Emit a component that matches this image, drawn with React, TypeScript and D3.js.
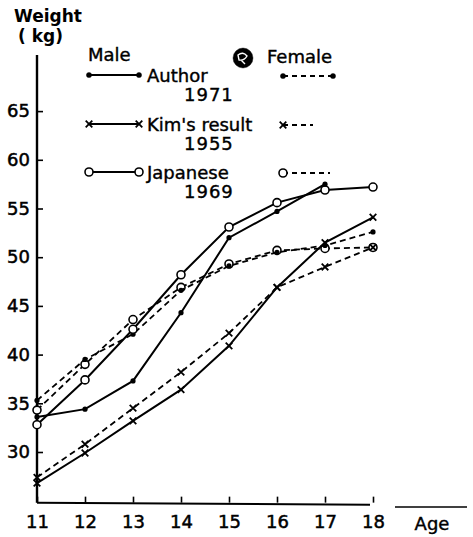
import { useRef, useEffect } from 'react';
import * as d3 from 'd3';

// ages on the x axis
const ages = [11, 12, 13, 14, 15, 16, 17, 18];
const yTicks = [30, 35, 40, 45, 50, 55, 60, 65];

// weights (kg); null = no point
const authorMale = [33.6, 34.4, 37.3, 44.3, 52.0, 54.7, 57.5, null];
const authorFemale = [35.3, 39.5, 42.1, 46.6, 49.1, 50.5, 51.2, 52.6];
const kimMale = [26.8, 29.9, 33.2, 36.4, 40.9, 46.9, 51.5, 54.1];
const kimFemale = [27.4, 30.8, 34.5, 38.2, 42.2, 46.9, 49.0, 51.0];
const japaneseMale = [32.8, 37.4, 42.6, 48.2, 53.1, 55.6, 56.9, 57.2];
const japaneseFemale = [34.3, 39.0, 43.6, 46.9, 49.3, 50.7, 50.9, 51.0];

const FONT = "'DejaVu Sans', sans-serif";

export default function App() {
  const ref = useRef(null);

  useEffect(() => {
    const svg = d3.select(ref.current);
    svg.selectAll('*').remove();

    const x = d3.scaleLinear().domain([11, 18]).range([37, 373]);
    const y = d3.scaleLinear().domain([25, 70]).range([500.7, 62.4]);

    const series = [
      { values: japaneseFemale, dashed: true, marker: 'open' },
      { values: authorFemale, dashed: true, marker: 'dot' },
      { values: kimFemale, dashed: true, marker: 'x' },
      { values: japaneseMale, dashed: false, marker: 'open' },
      { values: authorMale, dashed: false, marker: 'dot' },
      { values: kimMale, dashed: false, marker: 'x' },
    ];

    // axes
    const yAxis = d3.axisLeft(y).tickValues(yTicks).tickSize(-6).tickPadding(7);
    const gy = svg.append('g').attr('transform', `translate(${x(11)},0)`).call(yAxis);
    gy.select('.domain').remove();
    gy.append('line')
      .attr('x1', 0).attr('x2', 0)
      .attr('y1', 55).attr('y2', y(24.8))
      .attr('stroke', 'black').attr('stroke-width', 2.4);

    const xAxis = d3.axisBottom(x).tickValues(ages).tickFormat(d3.format('d')).tickSize(-6).tickPadding(10);
    const gx = svg.append('g').attr('transform', `translate(0,${y(24.8)})`).call(xAxis);
    gx.select('.domain').remove();
    gx.append('line')
      .attr('x1', x(11)).attr('x2', x(18) - 3)
      .attr('y1', 0).attr('y2', 2)
      .attr('stroke', 'black').attr('stroke-width', 2);

    [gx, gy].forEach((g) => {
      g.selectAll('.tick line').attr('stroke', 'black').attr('stroke-width', 1.6);
      g.selectAll('.tick text')
        .attr('fill', 'black')
        .attr('stroke', 'black').attr('stroke-width', 0.5)
        .attr('font-family', FONT)
        .attr('font-size', 18);
    });
    gx.selectAll('.tick text').attr('dy', '0.85em');

    // Age label with its own rule
    svg.append('line')
      .attr('x1', 395).attr('x2', 467)
      .attr('y1', 507).attr('y2', 507)
      .attr('stroke', 'black').attr('stroke-width', 1.6);
    svg.append('text')
      .attr('x', 432).attr('y', 530)
      .attr('text-anchor', 'middle')
      .attr('font-family', FONT).attr('font-size', 18)
      .attr('stroke', 'black').attr('stroke-width', 0.4)
      .text('Age');

    // y title
    svg.append('text')
      .attr('x', 14).attr('y', 22)
      .attr('font-family', FONT).attr('font-size', 17).attr('font-weight', 'bold')
      .text('Weight');
    svg.append('text')
      .attr('x', 18).attr('y', 42)
      .attr('font-family', FONT).attr('font-size', 17).attr('font-weight', 'bold')
      .text('( kg)');

    const drawMarker = (g, kind, cx, cy) => {
      if (kind === 'dot') {
        g.append('circle').attr('cx', cx).attr('cy', cy).attr('r', 2.6).attr('fill', 'black');
      } else if (kind === 'open') {
        g.append('circle').attr('cx', cx).attr('cy', cy).attr('r', 4)
          .attr('fill', 'white').attr('stroke', 'black').attr('stroke-width', 1.6);
      } else {
        const s = 3.3;
        g.append('path')
          .attr('d', `M${cx - s},${cy - s}L${cx + s},${cy + s}M${cx - s},${cy + s}L${cx + s},${cy - s}`)
          .attr('stroke', 'black').attr('stroke-width', 1.8);
      }
    };

    // data lines
    const line = d3.line()
      .defined((d) => d[1] != null)
      .x((d) => x(d[0]))
      .y((d) => y(d[1]));

    series.forEach((s) => {
      const pts = ages.map((a, i) => [a, s.values[i]]);
      const g = svg.append('g');
      g.append('path')
        .attr('d', line(pts))
        .attr('fill', 'none')
        .attr('stroke', 'black')
        .attr('stroke-width', s.dashed ? 1.8 : 2)
        .attr('stroke-dasharray', s.dashed ? '6,4' : null);
      pts.filter((p) => p[1] != null).forEach((p) => drawMarker(g, s.marker, x(p[0]), y(p[1])));
    });

    // legend
    const lg = svg.append('g').attr('font-family', FONT).attr('font-size', 18).attr('fill', 'black')
      .attr('stroke', 'black').attr('stroke-width', 0.4);
    lg.append('text').attr('x', 88).attr('y', 61).text('Male');
    lg.append('text').attr('x', 267).attr('y', 63).text('Female');
    lg.append('circle').attr('cx', 243).attr('cy', 58).attr('r', 10).attr('fill', 'black');
    lg.append('path').attr('d', 'M238,55 q5,-4 9,1 q-3,5 -8,4 z M241,60 l4,4').attr('fill', 'none')
      .attr('stroke', 'white').attr('stroke-width', 1.4);

    const rows = [
      { y: 75, name: 'Author', year: '1971', marker: 'dot', fx2: 333 },
      { y: 124, name: "Kim's result", year: '1955', marker: 'x', fx2: 313 },
      { y: 172, name: 'Japanese', year: '1969', marker: 'open', fx2: 330 },
    ];
    rows.forEach((r) => {
      lg.append('line').attr('x1', 89).attr('x2', 139).attr('y1', r.y).attr('y2', r.y)
        .attr('stroke', 'black').attr('stroke-width', 2);
      drawMarker(lg, r.marker, 89, r.y);
      drawMarker(lg, r.marker, 139, r.y);
      lg.append('line').attr('x1', 283).attr('x2', r.fx2).attr('y1', r.y + 1).attr('y2', r.y + 1)
        .attr('stroke', 'black').attr('stroke-width', 1.8).attr('stroke-dasharray', '5,4');
      drawMarker(lg, r.marker, 283, r.y + 1);
      if (r.marker === 'dot') drawMarker(lg, r.marker, r.fx2, r.y + 1);
      lg.append('text').attr('x', 147).attr('y', r.y + 7).text(r.name);
      lg.append('text').attr('x', 184).attr('y', r.y + 26).attr('letter-spacing', 1).text(r.year);
    });
  }, []);

  return (
    <svg
      ref={ref}
      width={473}
      height={537}
      style={{ position: 'absolute', left: 0, top: 0, background: 'white' }}
    />
  );
}
